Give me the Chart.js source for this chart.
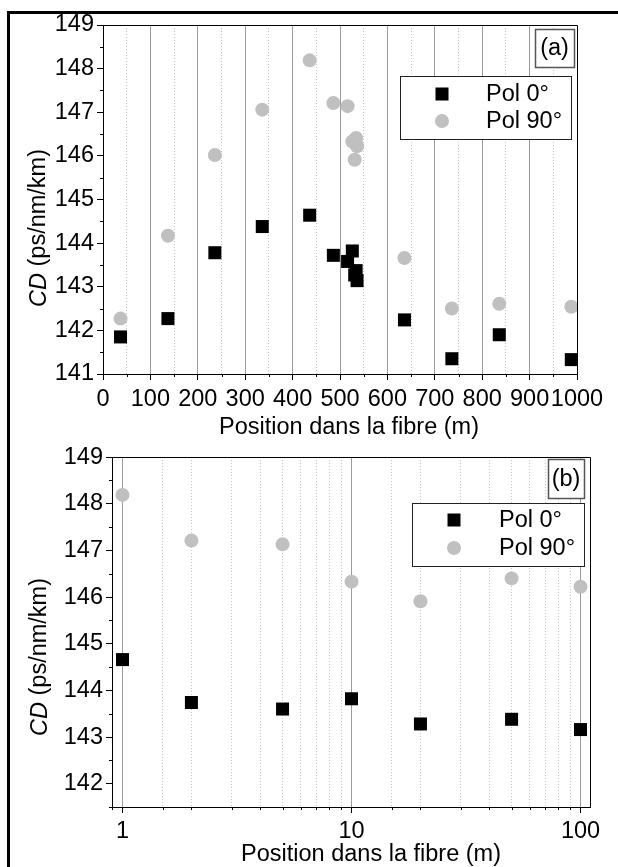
<!DOCTYPE html>
<html>
<head>
<meta charset="utf-8">
<script src="https://cdn.jsdelivr.net/npm/chart.js@4.4.1/dist/chart.umd.min.js"></script>
<style>
  html, body { margin: 0; padding: 0; background: #fff; }
  body { width: 618px; height: 867px; position: relative; overflow: hidden; }
  #frame { position: absolute; left: 7px; top: 11px; width: 640px; height: 900px;
           border-left: 3px solid #000; border-top: 3px solid #000; }
  .panel { position: absolute; left: 0; width: 618px; }
</style>
</head>
<body>
<div id="frame"></div>
<div class="panel" style="top:0;height:440px"><canvas id="chartA"></canvas></div>
<div class="panel" style="top:440px;height:427px"><canvas id="chartB"></canvas></div>
<script>
// panel (a): linear position along the fibre
const positionsA = [37, 137, 236, 336, 436, 486, 516, 526, 531, 534, 536, 636, 736, 836, 988];
const cdPol0A = [141.85, 142.27, 143.78, 144.38, 144.64, 143.72, 143.58, 143.82, 143.27, 143.37, 143.14, 142.24, 141.35, 141.90, 141.33];
const cdPol90A = [142.27, 144.17, 146.02, 147.06, 148.19, 147.21, 147.14, 146.33, 145.91, 146.41, 146.22, 143.66, 142.50, 142.61, 142.54];

// panel (b): log position
const positionsB = [1, 2, 5, 10, 20, 50, 100];
const cdPol0B = [144.66, 143.74, 143.60, 143.82, 143.28, 143.38, 143.16];
const cdPol90B = [148.19, 147.21, 147.13, 146.33, 145.91, 146.40, 146.22];

const seriesNames = ['Pol 0\u00b0', 'Pol 90\u00b0'];
const xTitle = 'Position dans la fibre (m)';

const FONT = "'Liberation Sans', Arial, Helvetica, sans-serif";
const FS = 23.5;
const MAJOR = '#9a9a9a', MINOR = '#c4c4c4', NONE = 'rgba(0,0,0,0)';

Chart.defaults.font.family = FONT;
Chart.defaults.font.size = FS;
Chart.defaults.color = '#000';

const toPoints = (xs, ys) => xs.map((x, i) => ({ x: x, y: ys[i] }));

function makeDatasets(xs, y0, y90) {
  return [
    { label: seriesNames[0], data: toPoints(xs, y0), pointStyle: 'rect', pointRadius: 9.2,
      backgroundColor: '#000', borderWidth: 0, showLine: false },
    { label: seriesNames[1], data: toPoints(xs, y90), pointStyle: 'circle', pointRadius: 7,
      backgroundColor: '#c0c0c0', borderWidth: 0, showLine: false }
  ];
}

const isInt = (v) => Math.abs(v - Math.round(v)) < 1e-9;
const isDecade = (v) => Math.abs(Math.log10(v) - Math.round(Math.log10(v))) < 1e-9;

// frame, short minor ticks, legend, panel tag and axis titles
function decorPlugin(o) {
  return {
    id: 'decor',
    beforeDatasetsDraw(chart) {
      const a = chart.chartArea, ctx = chart.ctx;
      ctx.save();
      ctx.strokeStyle = '#000';
      ctx.lineWidth = 1;
      ctx.beginPath();
      ctx.moveTo(Math.round(a.left) + 0.5, Math.round(a.top) + 0.5);
      ctx.lineTo(Math.round(a.right) + 0.5, Math.round(a.top) + 0.5);
      ctx.lineTo(Math.round(a.right) + 0.5, Math.round(a.bottom) + 0.5);
      ctx.stroke();
      ctx.restore();
    },
    afterDraw(chart) {
      const ctx = chart.ctx;
      const ds = chart.data.datasets;
      const a = chart.chartArea;
      ctx.save();

      // minor tick marks, shorter than the major ones
      ctx.strokeStyle = '#000';
      ctx.lineWidth = 1;
      ctx.beginPath();
      chart.scales.x.ticks.forEach((t) => {
        if (o.minorX(t.value)) {
          const px = Math.round(chart.scales.x.getPixelForValue(t.value)) + 0.5;
          ctx.moveTo(px, a.bottom);
          ctx.lineTo(px, a.bottom + 3);
        }
      });
      chart.scales.y.ticks.forEach((t) => {
        if (!isInt(t.value)) {
          const py = Math.round(chart.scales.y.getPixelForValue(t.value)) + 0.5;
          ctx.moveTo(a.left, py);
          ctx.lineTo(a.left - 3, py);
        }
      });
      ctx.stroke();

      ctx.font = FS + 'px ' + FONT;

      // panel tag box
      const t = o.tag;
      ctx.fillStyle = '#fff';
      ctx.fillRect(t.x, t.y, t.w, t.h);
      ctx.strokeStyle = '#555';
      ctx.lineWidth = 1.5;
      ctx.strokeRect(t.x + 0.5, t.y + 0.5, t.w, t.h);
      ctx.fillStyle = '#000';
      ctx.textAlign = 'center';
      ctx.textBaseline = 'middle';
      ctx.fillText(t.text, t.x + t.w / 2, t.y + t.h / 2 + 1);

      // legend box
      const l = o.legend;
      ctx.fillStyle = '#fff';
      ctx.fillRect(l.x, l.y, l.w, l.h);
      ctx.strokeStyle = '#222';
      ctx.lineWidth = 1;
      ctx.strokeRect(l.x + 0.5, l.y + 0.5, l.w, l.h);
      ctx.textAlign = 'left';
      ds.forEach((d, i) => {
        const y = l.rows[i];
        ctx.fillStyle = d.backgroundColor;
        if (d.pointStyle === 'rect') {
          ctx.fillRect(l.mx - 6.5, y - 6.5, 13, 13);
        } else {
          ctx.beginPath();
          ctx.arc(l.mx, y, 7, 0, Math.PI * 2);
          ctx.fill();
        }
        ctx.fillStyle = '#000';
        ctx.fillText(d.label, l.tx, y + 1);
      });

      // x title
      ctx.textAlign = 'center';
      ctx.textBaseline = 'alphabetic';
      ctx.fillText(xTitle, o.xTitle.x, o.xTitle.y);

      // y title: italic CD + normal unit
      ctx.translate(o.yTitle.x, o.yTitle.y);
      ctx.rotate(-Math.PI / 2);
      ctx.textBaseline = 'middle';
      ctx.textAlign = 'left';
      const italic = 'italic ' + FS + 'px ' + FONT;
      const normal = FS + 'px ' + FONT;
      ctx.font = italic;
      const w1 = ctx.measureText('CD').width;
      ctx.font = normal;
      const w2 = ctx.measureText(' (ps/nm/km)').width;
      const x0 = -(w1 + w2) / 2;
      ctx.font = italic;
      ctx.fillText('CD', x0, 0);
      ctx.font = normal;
      ctx.fillText(' (ps/nm/km)', x0 + w1, 0);
      ctx.restore();
    }
  };
}

function yScale(min, max, width) {
  return {
    type: 'linear', min: min, max: max,
    afterFit: (s) => { s.width = width; },
    ticks: { stepSize: 0.5, autoSkip: false, padding: 3,
             callback: (v) => isInt(v) ? String(Math.round(v)) : '' },
    grid: { drawOnChartArea: false, drawTicks: true, tickLength: 6,
            tickColor: (c) => (c.tick && isInt(c.tick.value)) ? '#000' : NONE },
    border: { color: '#000', width: 1 }
  };
}

// (a)
const minorA = (v) => v > 0 && v < 1000 && v % 100 !== 0;

new Chart(document.getElementById('chartA'), {
  type: 'scatter',
  data: { datasets: makeDatasets(positionsA, cdPol0A, cdPol90A) },
  options: {
    responsive: true, maintainAspectRatio: false, animation: false,
    events: [],
    layout: { autoPadding: false, padding: { top: 25, right: 41, left: 0, bottom: 0 } },
    plugins: { legend: { display: false }, tooltip: { enabled: false } },
    scales: {
      x: {
        type: 'linear', min: 0, max: 1000,
        afterFit: (s) => { s.height = 66; },
        ticks: { stepSize: 50, autoSkip: false, maxRotation: 0, minRotation: 0, padding: 5,
                 callback: (v) => v % 100 === 0 ? String(v) : '' },
        grid: {
          drawTicks: true, tickLength: 6,
          tickColor: (c) => (c.tick && c.tick.value % 100 === 0) ? '#000' : NONE,
          color: (c) => {
            const v = c.tick ? c.tick.value : 0;
            if (v <= 0 || v >= 1000) return NONE;
            return v % 100 === 0 ? MAJOR : MINOR;
          }
        },
        border: { color: '#000', width: 1,
                  dash: (c) => (c.tick && c.tick.value % 100 !== 0) ? [1, 2] : [] }
      },
      y: yScale(141, 149, 103)
    }
  },
  plugins: [decorPlugin({
    minorX: minorA,
    tag: { x: 535, y: 29, w: 39, h: 38, text: '(a)' },
    legend: { x: 400, y: 76, w: 171, h: 63, mx: 442, tx: 486, rows: [94, 121] },
    xTitle: { x: 349, y: 434 },
    yTitle: { x: 39, y: 228 }
  })]
});

// (b)
const minorB = (v) => v < 105 && !isDecade(v);

new Chart(document.getElementById('chartB'), {
  type: 'scatter',
  data: { datasets: makeDatasets(positionsB, cdPol0B, cdPol90B) },
  options: {
    responsive: true, maintainAspectRatio: false, animation: false,
    events: [],
    layout: { autoPadding: false, padding: { top: 15, right: 28, left: 0, bottom: 0 } },
    plugins: { legend: { display: false }, tooltip: { enabled: false } },
    scales: {
      x: {
        type: 'logarithmic', min: 0.9, max: 110,
        afterFit: (s) => { s.height = 60; },
        ticks: { autoSkip: false, maxRotation: 0, minRotation: 0, padding: 4,
                 callback: (v) => isDecade(v) ? String(Math.round(v)) : '' },
        grid: {
          drawTicks: true, tickLength: 6,
          tickColor: (c) => (c.tick && isDecade(c.tick.value)) ? '#000' : NONE,
          color: (c) => {
            const v = c.tick ? c.tick.value : 1;
            if (v < 0.95 || v > 105) return NONE;
            return isDecade(v) ? MAJOR : MINOR;
          }
        },
        border: { color: '#000', width: 1,
                  dash: (c) => (c.tick && !isDecade(c.tick.value)) ? [1, 2] : [] }
      },
      y: yScale(141.5, 149, 112)
    }
  },
  plugins: [decorPlugin({
    minorX: minorB,
    tag: { x: 548, y: 19, w: 36, h: 39, text: '(b)' },
    legend: { x: 412, y: 63, w: 172, h: 63, mx: 454, tx: 499, rows: [80, 108] },
    xTitle: { x: 371, y: 421 },
    yTitle: { x: 40, y: 217 }
  })]
});
</script>
</body>
</html>
